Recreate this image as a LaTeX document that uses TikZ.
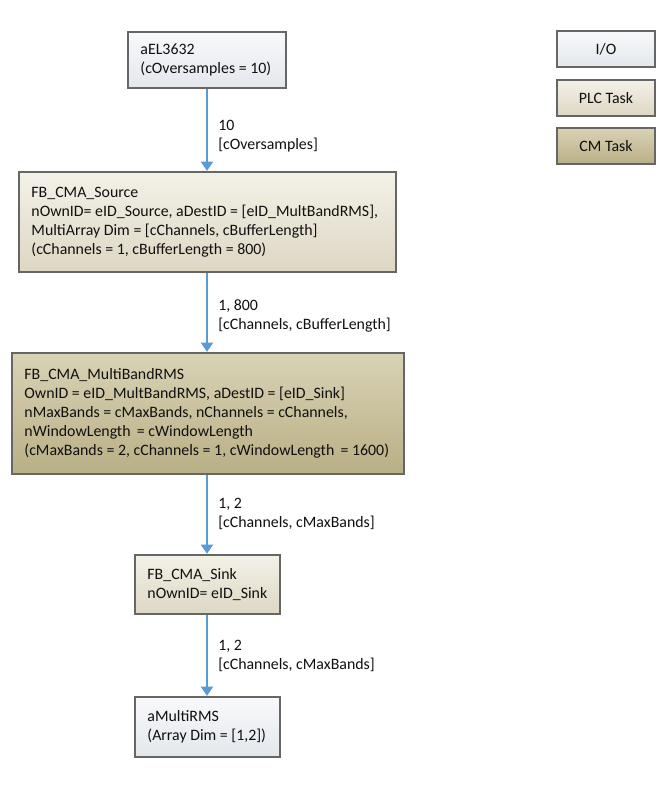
\documentclass[tikz,border=0pt]{standalone}
\usepackage{fontspec}
\setmainfont{Carlito}
\usetikzlibrary{arrows.meta}
\definecolor{bordergray}{HTML}{666666}
\definecolor{arrowblue}{HTML}{5B9BD5}
\definecolor{txt}{HTML}{101010}
\definecolor{iotop}{HTML}{F8F9FB}
\definecolor{iobot}{HTML}{E3E7EC}
\definecolor{plctop}{HTML}{F3F1E8}
\definecolor{plcbot}{HTML}{DDD7C3}
\definecolor{cmtop}{HTML}{D9D3B5}
\definecolor{cmbot}{HTML}{B9AF85}
\tikzset{
  basebox/.style={draw=bordergray, line width=1.7pt, rectangle, inner sep=0pt,
    text=txt, font=\fontsize{11.9}{14.25}\selectfont},
  iobox/.style={basebox, top color=iotop, bottom color=iobot},
  plcbox/.style={basebox, top color=plctop, bottom color=plcbot},
  cmbox/.style={basebox, top color=cmtop, bottom color=cmbot},
  legendbox/.style={minimum width=73.5pt, minimum height=27pt},
  boxtext/.style={anchor=west, align=left, inner sep=0pt, text=txt,
    font=\fontsize{11.9}{14.25}\selectfont, xshift=10pt},
  flow/.style={draw=arrowblue, line width=2pt, -{Triangle[length=7pt,width=9pt]}},
  flowlabel/.style={anchor=west, align=left, inner sep=0pt, text=txt,
    font=\fontsize{11.9}{14.25}\selectfont},
}
\begin{document}
\begin{tikzpicture}[x=0.75pt,y=-0.75pt]
\useasboundingbox (0,0) rectangle (671,801);
% legend
\node[iobox, legendbox] (io) at (606,49) {I/O};
\node[plcbox, legendbox] (plc) at (606,98) {PLC Task};
\node[cmbox, legendbox] (cm) at (606,146) {CM Task};
% main chain boxes
\node[iobox, minimum width=118.5pt, minimum height=42pt] (a) at (207,60) {};
\node[plcbox, minimum width=282.75pt, minimum height=75pt] (src) at (207.5,222) {};
\node[cmbox, minimum width=294pt, minimum height=90.75pt] (rms) at (208,413.5) {};
\node[plcbox, minimum width=108.75pt, minimum height=44.25pt] (sink) at (207.5,584.5) {};
\node[iobox, minimum width=108.75pt, minimum height=45pt] (out) at (207.5,727) {};
% box texts
\node[boxtext] (atext) at (a.west) {aEL3632\\(cOversamples = 10)};
\node[boxtext] (srctext) at (src.west)
  {FB\_CMA\_Source\\nOwnID= eID\_Source, aDestID = [eID\_MultBandRMS],\\MultiArray Dim = [cChannels, cBufferLength]\\(cChannels = 1, cBufferLength = 800)};
\node[boxtext] (rmstext) at (rms.west)
  {FB\_CMA\_MultiBandRMS\\OwnID = eID\_MultBandRMS, aDestID = [eID\_Sink]\\nMaxBands = cMaxBands, nChannels = cChannels,\\nWindowLength\hspace{2pt} = cWindowLength\\(cMaxBands = 2, cChannels = 1, cWindowLength\hspace{2pt} = 1600)};
\node[boxtext] (sinktext) at (sink.west) {FB\_CMA\_Sink\\nOwnID= eID\_Sink};
\node[boxtext] (outtext) at (out.west) {aMultiRMS\\(Array Dim = [1,2])};
% connectors
\draw[flow] (a.south) -- (a.south |- src.north);
\draw[flow] (a.south |- src.south) -- (a.south |- rms.north);
\draw[flow] (a.south |- rms.south) -- (a.south |- sink.north);
\draw[flow] (a.south |- sink.south) -- (a.south |- out.north);
% labels
\node[flowlabel] (l1) at (218,136) {10\\{}[cOversamples]};
\node[flowlabel] (l2) at (218,316) {1, 800\\{}[cChannels, cBufferLength]};
\node[flowlabel] (l3) at (218,514) {1, 2\\{}[cChannels, cMaxBands]};
\node[flowlabel] (l4) at (218,656) {1, 2\\{}[cChannels, cMaxBands]};
\end{tikzpicture}
\end{document}
